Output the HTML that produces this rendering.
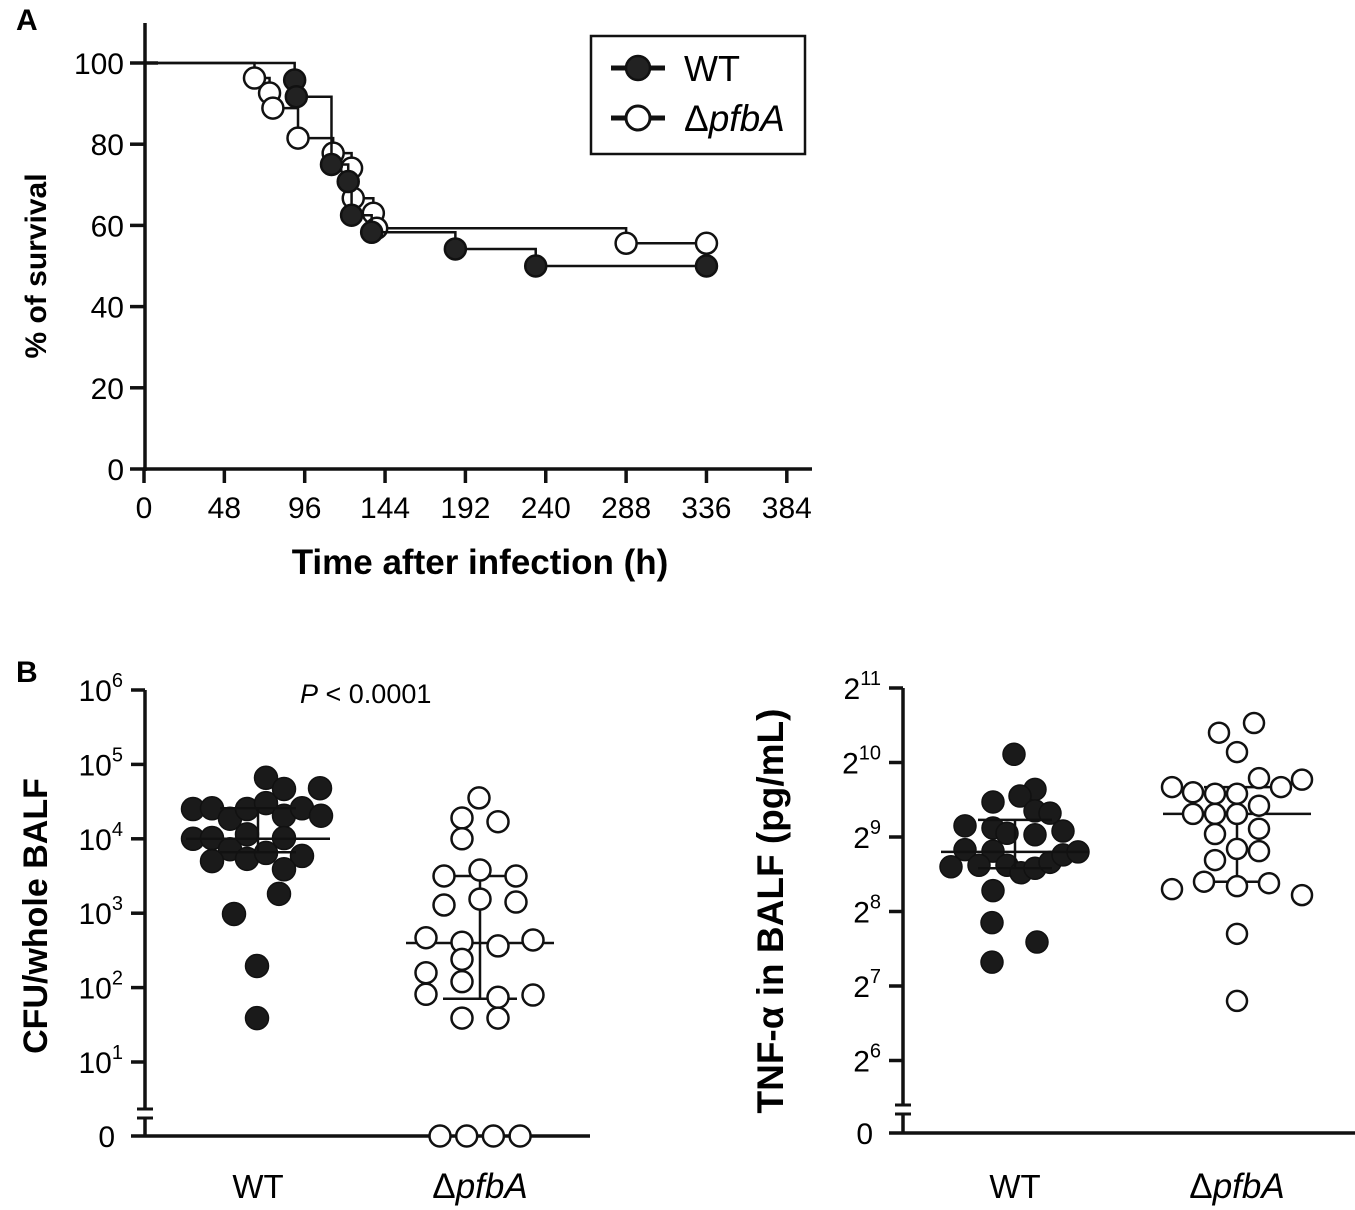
<!DOCTYPE html>
<html><head><meta charset="utf-8"><style>
body{margin:0;background:#fff}
svg{display:block;font-family:"Liberation Sans",Arial,sans-serif}
</style></head><body>
<svg id="fig" width="1355" height="1210" viewBox="0 0 1355 1210" xmlns="http://www.w3.org/2000/svg">
<text x="16" y="30" font-size="30" font-weight="bold">A</text>
<text x="16" y="682" font-size="30" font-weight="bold">B</text>
<g id="pa"></g>
<g id="pb1"></g>
<g id="pb2"></g>
</svg>
<script>
// ===== Panel A data =====
const xTicksA = [0,48,96,144,192,240,288,336,384];
const yTicksA = [0,20,40,60,80,100];
const wtTimes = [90,91,112,122,124,136,186,234];
const wtSurv = [95.8,91.7,75,70.8,62.5,58.3,54.2,50];
const wtEnd = 336;
const kdTimes = [66,75,77,92,113,124,125,137,139,288];
const kdSurv = [96.3,92.6,88.9,81.5,77.8,74.1,66.7,63,59.3,55.6];
const kdEnd = 336;
// ===== Panel B left data (log10 CFU) =====
const cfuTicks = [1,2,3,4,5,6];
const cfuWT = [4.40,4.41,4.27,4.40,4.48,4.31,4.41,4.31,4.82,4.67,4.68,4.00,4.01,3.86,4.06,4.01,3.70,3.73,3.81,3.77,3.59,3.26,2.99,2.29,1.59];
const cfuWTjit = [-65,-46,-28,-11,8,26,44,63,8,26,62,-65,-46,-28,-11,26,-46,-11,8,44,26,21,-24,-1,-1];
const cfuKD = [4.55,4.28,4.23,4.00,3.50,3.58,3.50,3.11,3.19,3.15,2.67,2.61,2.56,2.64,2.38,2.20,2.08,1.91,1.87,1.90,1.59,1.59];
const cfuKDjit = [-1,-18,18,-18,-36,0,36,-36,0,36,-54,-18,18,53,-18,-54,-18,-54,18,53,-18,18];
const cfuKDzeros = 4;
const cfuWTstats = [4.00,4.41,3.82]; // median, upper, lower
const cfuKDstats = [2.60,3.50,1.85];
// ===== Panel B right data (log2 TNF) =====
const tnfTicks = [6,7,8,9,10,11];
const tnfWT = [10.11,9.64,9.55,9.47,9.35,9.32,9.15,9.12,9.05,9.03,9.08,8.83,8.81,8.60,8.62,8.62,8.52,8.58,8.66,8.76,8.80,8.28,7.85,7.59,7.32];
const tnfWTjit = [-1,20,5,-22,20,35,-50,-22,-8,20,48,-50,-22,-64,-36,-8,6,20,35,48,63,-22,-23,22,-23];
const tnfKD = [10.53,10.40,10.14,9.79,9.77,9.67,9.67,9.60,9.58,9.58,9.42,9.31,9.31,9.31,9.11,9.04,8.84,8.81,8.69,8.40,8.34,8.38,8.30,8.22,7.70,6.80];
const tnfKDjit = [17,-18,0,22,65,-65,44,-44,-22,0,22,-44,-22,0,22,-22,0,22,-22,-33,0,32,-65,65,0,0];
const tnfWTstats = [8.80,9.23,8.58];
const tnfKDstats = [9.31,9.67,8.40];

const NS='http://www.w3.org/2000/svg';
function mk(parent,tag,attrs,text){const e=document.createElementNS(NS,tag);for(const k in attrs)e.setAttribute(k,attrs[k]);if(text!==undefined)e.textContent=text;parent.appendChild(e);return e;}

// ===== Panel A =====
const pa=document.getElementById('pa');
const ax=t=>144+t*1.674, ay=v=>469-v*4.06;
let e;
e=mk(pa,'line',{x1:145,y1:23,x2:145,y2:471,stroke:'#111','stroke-width':3.5});


e=mk(pa,'line',{x1:143,y1:469,x2:812,y2:469,stroke:'#111','stroke-width':3.5});


yTicksA.forEach(v=>{
  mk(pa,'line',{x1:130,y1:ay(v),x2:v==100?158:145,y2:ay(v),stroke:'#111','stroke-width':3.5});
  e=mk(pa,'text',{x:124,y:ay(v)+11,'font-size':30,'text-anchor':'end'},String(v));
  
  
});
xTicksA.forEach(t=>{
  mk(pa,'line',{x1:ax(t),y1:469,x2:ax(t),y2:483,stroke:'#111','stroke-width':3.5});
  e=mk(pa,'text',{x:ax(t),y:518,'font-size':30,'text-anchor':'middle'},String(t));
  
  
});
e=mk(pa,'text',{x:480,y:574,'font-size':35,'font-weight':'bold','text-anchor':'middle'},'Time after infection (h)');


e=mk(pa,'text',{x:46,y:266,'font-size':30,'font-weight':'bold','text-anchor':'middle',transform:'rotate(-90 46 266)'},'% of survival');


function km(times,surv,end,fill,name){
  let d='M'+ax(0)+','+ay(100);
  times.forEach((t,i)=>{d+=' H'+ax(t)+' V'+ay(surv[i]);});
  d+=' H'+ax(end);
  e=mk(pa,'path',{d:d,fill:'none',stroke:'#111','stroke-width':2.5});
  
  
  times.concat([end]).forEach((t,i)=>{
    const s=i<surv.length?surv[i]:surv[surv.length-1];
    e=mk(pa,'circle',{cx:ax(t),cy:ay(s),r:10.5,fill:fill,stroke:'#111','stroke-width':2.5});
    
    
  });
}
km(kdTimes,kdSurv,kdEnd,'#fff','pfba');
km(wtTimes,wtSurv,wtEnd,'#222','wt');
// legend
e=mk(pa,'rect',{x:591,y:36,width:214,height:118,fill:'#fff',stroke:'#111','stroke-width':2.5});


mk(pa,'line',{x1:611,y1:68,x2:665,y2:68,stroke:'#111','stroke-width':5});
mk(pa,'circle',{cx:638,cy:68,r:12,fill:'#222',stroke:'#111','stroke-width':2.5});
e=mk(pa,'text',{x:684,y:81,'font-size':36},'WT');


mk(pa,'line',{x1:611,y1:118,x2:665,y2:118,stroke:'#111','stroke-width':5});
mk(pa,'circle',{cx:638,cy:118,r:12,fill:'#fff',stroke:'#111','stroke-width':3});
e=mk(pa,'text',{x:684,y:131,'font-size':37},'');


mk(e,'tspan',{},'Δ');mk(e,'tspan',{'font-style':'italic'},'pfbA');

// ===== Panel B generic =====
function scatter(g,opt){
  const y=opt.y;
  e=mk(g,'line',{x1:opt.ax,y1:opt.top,x2:opt.ax,y2:opt.brk1,stroke:'#111','stroke-width':3.5});
  
  
  mk(g,'line',{x1:opt.ax,y1:opt.brk2,x2:opt.ax,y2:opt.zero,stroke:'#111','stroke-width':3.5});
  mk(g,'line',{x1:opt.ax-8,y1:opt.brk1,x2:opt.ax+8,y2:opt.brk1,stroke:'#111','stroke-width':3});
  mk(g,'line',{x1:opt.ax-8,y1:opt.brk2,x2:opt.ax+8,y2:opt.brk2,stroke:'#111','stroke-width':3});
  e=mk(g,'line',{x1:opt.ax-14,y1:opt.zero,x2:opt.xend,y2:opt.zero,stroke:'#111','stroke-width':3.5});
  
  
  opt.ticks.forEach(v=>{
    mk(g,'line',{x1:opt.ax-14,y1:y(v),x2:opt.ax,y2:y(v),stroke:'#111','stroke-width':3.5});
    e=mk(g,'text',{x:opt.ax-22,y:y(v)+11,'font-size':30,'text-anchor':'end'},'');
    
    
    mk(e,'tspan',{},opt.base);mk(e,'tspan',{'font-size':20,dy:-14},String(v));
  });
  e=mk(g,'text',{x:opt.ax-30,y:opt.zero+11,'font-size':30,'text-anchor':'end'},'0');
  
  
  e=mk(g,'text',{x:opt.titleX,y:opt.titleY,'font-size':opt.tfs,'font-weight':'bold','text-anchor':'middle',transform:'rotate(-90 '+opt.titleX+' '+opt.titleY+')'},opt.title);
  
  
  e=mk(g,'text',{x:opt.c1,y:1198,'font-size':33,'text-anchor':'middle'},'WT');
  
  
  e=mk(g,'text',{x:opt.c2,y:1198,'font-size':35,'text-anchor':'middle'},'');
  
  
  mk(e,'tspan',{},'Δ');mk(e,'tspan',{'font-style':'italic'},'pfbA');
  function stats(c,s,w1,w2){
    mk(g,'line',{x1:c-w1,y1:y(s[0]),x2:c+w1,y2:y(s[0]),stroke:'#111','stroke-width':2.5});
    mk(g,'line',{x1:c,y1:y(s[1]),x2:c,y2:y(s[2]),stroke:'#111','stroke-width':2.5});
    mk(g,'line',{x1:c-w2,y1:y(s[1]),x2:c+w2,y2:y(s[1]),stroke:'#111','stroke-width':2.5});
    mk(g,'line',{x1:c-w2,y1:y(s[2]),x2:c+w2,y2:y(s[2]),stroke:'#111','stroke-width':2.5});
  }
  opt.a.forEach((v,i)=>{
    e=mk(g,'circle',{cx:opt.c1+opt.aj[i],cy:y(v),r:opt.r,fill:'#1a1a1a',stroke:'#111','stroke-width':1.5});
    
    
  });
  stats(opt.c1,opt.as,opt.w1a,opt.w2a);
  stats(opt.c2,opt.bs,opt.w1b,opt.w2b);
  opt.b.forEach((v,i)=>{
    e=mk(g,'circle',{cx:opt.c2+opt.bj[i],cy:y(v),r:opt.r-1,fill:'#fff',stroke:'#111','stroke-width':2.5});
    
    
  });
  for(let i=0;i<(opt.zeros||0);i++){
    e=mk(g,'circle',{cx:opt.c2-40+i*26.7,cy:opt.zero,r:opt.r-1,fill:'#fff',stroke:'#111','stroke-width':2.5});
    
    
  }
}
scatter(document.getElementById('pb1'),{
  ax:145,top:690,brk1:1109,brk2:1118,zero:1136,xend:590,y:v=>690+(6-v)*74.4,ticks:cfuTicks,base:'10',
  title:'CFU/whole BALF',titleX:47,titleY:916,tfs:34,c1:258,c2:480,a:cfuWT,aj:cfuWTjit,b:cfuKD,bj:cfuKDjit,zeros:cfuKDzeros,
  as:cfuWTstats,bs:cfuKDstats,w1a:72,w2a:38,w1b:74,w2b:37,r:11.5});
scatter(document.getElementById('pb2'),{
  ax:903,top:688,brk1:1105,brk2:1114,zero:1133,xend:1355,y:v=>688+(11-v)*74.5,ticks:tnfTicks,base:'2',
  title:'TNF-α in BALF (pg/mL)',titleX:783,titleY:911,tfs:37,c1:1015,c2:1237,a:tnfWT,aj:tnfWTjit,b:tnfKD,bj:tnfKDjit,zeros:0,
  as:tnfWTstats,bs:tnfKDstats,w1a:74,w2a:37,w1b:74,w2b:33,r:11});
e=mk(document.getElementById('pb1'),'text',{x:300,y:703,'font-size':27},'');


mk(e,'tspan',{'font-style':'italic'},'P');mk(e,'tspan',{},' < 0.0001');
</script>
</body></html>
